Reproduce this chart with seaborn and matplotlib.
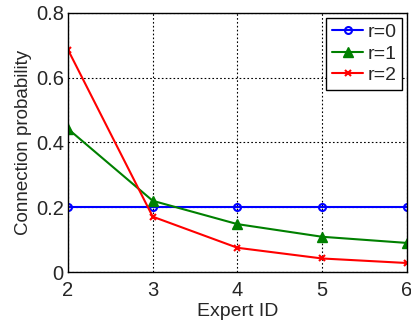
import matplotlib
matplotlib.use("Agg")
import matplotlib.pyplot as plt
import seaborn as sns

expert_ids = [2, 3, 4, 5, 6]
r0 = [0.2, 0.2, 0.2, 0.2, 0.2]
r1 = [0.442, 0.220, 0.148, 0.109, 0.090]
r2 = [0.686, 0.171, 0.075, 0.042, 0.028]
labels = ["r=0", "r=1", "r=2"]

sns.set_style("white")
plt.rcParams['font.family'] = ['Liberation Sans', 'DejaVu Sans']

fig = plt.figure(figsize=(4.11, 3.22), dpi=100)
ax = fig.add_axes([0.1655, 0.155, 0.8245, 0.805])

colors = [(0, 0, 1), (0, 0.5, 0), (1, 0, 0)]
styles = [
    dict(marker="o", markersize=5, markerfacecolor="none", markeredgewidth=1.5),
    dict(marker="^", markersize=7, markeredgewidth=1.0),
    dict(marker="x", markersize=4, markeredgewidth=1.5),
]
for lab, vals, c, st in zip(labels, [r0, r1, r2], colors, styles):
    sns.lineplot(x=expert_ids, y=vals, ax=ax, label=lab, linewidth=1.5,
                 color=c, markeredgecolor=c, **st)
for line, c in zip(ax.lines, colors):
    line.set_markeredgecolor(c)

ax.set_xlim(2, 6)
ax.set_ylim(0, 0.8)
ax.set_xticks([2, 3, 4, 5, 6])
ax.set_yticks([0, 0.2, 0.4, 0.6, 0.8])
ax.set_yticklabels(["0", "0.2", "0.4", "0.6", "0.8"])
ax.grid(True, color="black", linestyle=(0, (1.5, 2)), linewidth=0.8)
for s in ax.spines.values():
    s.set_color("black")
    s.set_linewidth(1.0)
ax.tick_params(axis="both", labelsize=14.5, length=0)
ax.tick_params(axis="x", pad=6.5)
ax.tick_params(axis="y", pad=3)
ax.set_xlabel("Expert ID", fontsize=14, labelpad=2)
ax.set_ylabel("Connection probability", fontsize=13.5, labelpad=3)

leg = ax.legend(loc="upper right", fontsize=14,
                frameon=True, fancybox=False, framealpha=1, edgecolor="black",
                borderaxespad=0.25, handlelength=1.6, handletextpad=0.2, labelspacing=0.2,
                borderpad=0.3)
leg.get_frame().set_linewidth(1.0)

fig.savefig("out.png", dpi=100)
